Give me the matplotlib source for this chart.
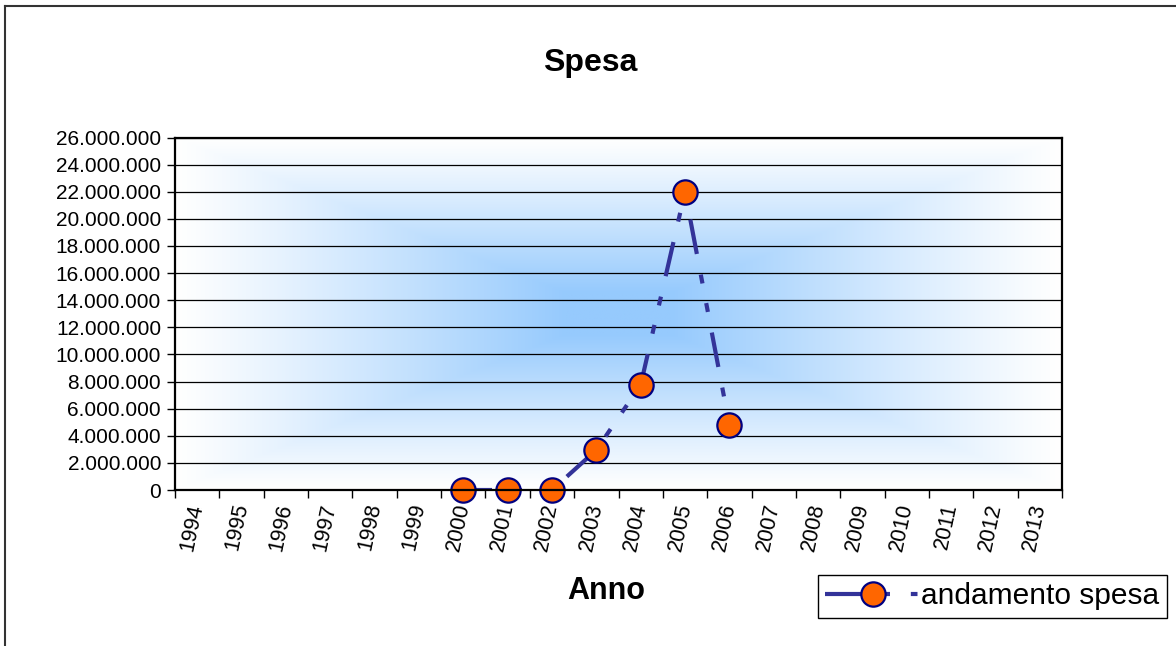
import numpy as np
import matplotlib
matplotlib.use("Agg")
import matplotlib.pyplot as plt
from matplotlib.lines import Line2D
from matplotlib.ticker import FuncFormatter, MultipleLocator

plt.rcParams['font.family'] = ['Liberation Sans', 'DejaVu Sans']

# ---- data ----
years = [str(y) for y in range(1994, 2014)]
spesa_years = ['2000', '2001', '2002', '2003', '2004', '2005', '2006']
spesa_values = [0, 0, 0, 2_950_000, 7_750_000, 22_000_000, 4_800_000]
series_label = 'andamento spesa'
title = 'Spesa'
xlabel = 'Anno'

W, H = 1176, 646
fig = plt.figure(figsize=(W / 100, H / 100), dpi=100)
ax = fig.add_axes([175 / W, 1 - 490 / H, (1062 - 175) / W, (490 - 137.5) / H])

# gradient background (rectangular, from center)
nx, ny = 400, 200
gx = np.linspace(-1, 1, nx)
gy = np.linspace(-1, 1, ny)
GX, GY = np.meshgrid(gx, gy)
t = np.maximum(np.abs(GX), np.abs(GY))
s = np.clip((1 - t) / 0.88, 0, 1) ** 1.1
center = np.array([150, 202, 253]) / 255.0
white = np.array([1.0, 1.0, 1.0])
img = white[None, None, :] + (center - white)[None, None, :] * s[:, :, None]
ax.imshow(img, extent=(0, 1, 0, 1), transform=ax.transAxes, aspect='auto',
          zorder=0, interpolation='bilinear')

xpos = [years.index(y) for y in spesa_years]
line_color = '#333399'
lw = 3.0
dash = (1.5, (8.4, 5.04, 2.16, 4.8, 2.16, 5.04))
ax.plot(xpos, spesa_values, color=line_color, lw=lw, ls=dash,
        dash_capstyle='butt', solid_capstyle='butt', zorder=3)
ax.plot(xpos, spesa_values, ls='none', marker='o', ms=17.5, mfc='#FF6600',
        mec='#000080', mew=1.6, zorder=4, clip_on=False)

ax.set_xlim(-0.5, len(years) - 0.5)
ax.set_ylim(0, 26_000_000)
ax.yaxis.set_major_locator(MultipleLocator(2_000_000))
ax.yaxis.set_major_formatter(FuncFormatter(lambda v, p: f"{int(round(v)):,}".replace(',', '.')))
ax.grid(axis='y', color='black', lw=0.9, zorder=1)
ax.set_axisbelow(False)
for gl in ax.get_ygridlines():
    gl.set_zorder(1)

# x ticks at category boundaries, labels at centers
ax.set_xticks(np.arange(-0.5, len(years), 1.0))
ax.set_xticklabels([])
ax.set_xticks(np.arange(len(years)), minor=True)
ax.set_xticklabels(years, minor=True, rotation=78, rotation_mode='anchor',
                   ha='right', va='center', fontsize=15.5)
ax.tick_params(axis='x', which='minor', length=0, pad=10)
ax.tick_params(axis='x', which='major', length=6, width=1, direction='out', color='black')
ax.tick_params(axis='y', length=6, width=1, direction='out', labelsize=15, pad=4)

for sp in ax.spines.values():
    sp.set_linewidth(1.6)
    sp.set_color('black')
    sp.set_zorder(5)

fig.text(590 / W, 1 - 63 / H, title, ha='center', va='center', fontsize=23, fontweight='bold')
fig.text(606 / W, 1 - 591 / H, xlabel, ha='center', va='center', fontsize=22, fontweight='bold')

handle = Line2D([], [], color=line_color, lw=lw, ls=(0, (15.6, 5.0, 1.6, 10)),
                dash_capstyle='butt', marker='o', ms=17.5,
                mfc='#FF6600', mec='#000080', mew=1.6)
leg = fig.legend([handle], [series_label], loc='upper left',
                 bbox_to_anchor=(818 / W, 1 - 575 / H), fontsize=21.5,
                 frameon=True, fancybox=False, edgecolor='black', framealpha=1,
                 handlelength=3.2, handletextpad=0.0, borderpad=0.25,
                 borderaxespad=0)
leg.get_frame().set_linewidth(1.0)

# outer chart border
fig.add_artist(Line2D([4.5 / W, 4.5 / W], [0, 1 - 5.5 / H], color='#333333', lw=1.5,
                      transform=fig.transFigure))
fig.add_artist(Line2D([4.5 / W, 1.0], [1 - 5.5 / H, 1 - 5.5 / H], color='#333333', lw=1.5,
                      transform=fig.transFigure))

fig.savefig('out.png', dpi=100)
